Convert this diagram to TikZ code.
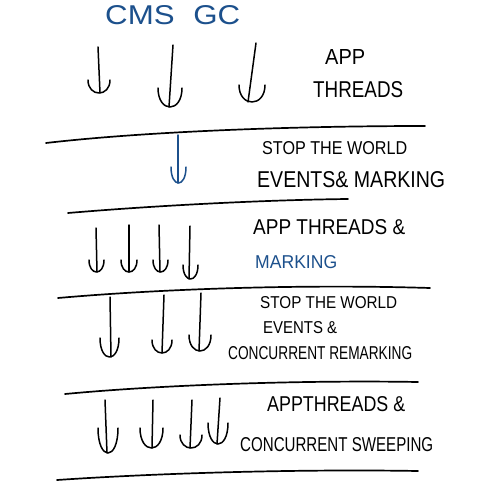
\documentclass[tikz,border=0pt]{standalone}
\usepackage{fontspec}
\setmainfont{Liberation Sans}
\usepackage{graphicx}
\definecolor{inkblue}{RGB}{28,80,140}
\tikzset{
  ink/.style={line width=1.5pt, line cap=round, line join=round, black},
  sep/.style={line width=1.7pt, line cap=round, black},
  lbl/.style={anchor=west, inner sep=0pt, black},
}
\newcommand\cuparrow[8]{% color, xt, yt, xb, yb, xl, xr, ya
  \draw[ink,#1] (#2,#3) -- (#4,#5);
  \draw[ink,#1] (#6,#8) .. controls (#6,{#5+(#5-#8)/3}) and (#7,{#5+(#5-#8)/3}) .. (#7,#8);
}
\newcommand\fitw[3]{\resizebox{#1pt}{#2pt}{#3}}
\begin{document}
\begin{tikzpicture}[x=1pt,y=-1pt]
\useasboundingbox (0,0) rectangle (488,492);

% title
\node[lbl, text=inkblue] (title) at (105,15) {\fitw{135}{19}{CMS\hspace{0.6em}GC}};

% separators
\draw[sep] (46,143) .. controls (150,131) and (300,126) .. (425,126);
\draw[sep] (68,213) .. controls (150,206) and (260,200) .. (348,199);
\draw[sep] (58,298) .. controls (160,289) and (300,284) .. (430,288);
\draw[sep] (65,394) .. controls (160,385) and (300,380) .. (418,382);
\draw[sep] (57,480) .. controls (160,473) and (300,469) .. (418,471);

% row 1
\cuparrow{black}{98}{47}{100}{93}{88}{110}{80}
\cuparrow{black}{173}{45}{169}{107}{158}{182}{88}
\cuparrow{black}{256}{43}{248}{102}{239}{265}{85}
\node[lbl] (t1a) at (325,57) {\fitw{40}{15}{APP}};
\node[lbl] (t1b) at (313,90) {\fitw{90}{16}{THREADS}};

% row 2
\cuparrow{inkblue}{178}{135}{178}{183}{171}{186}{167}
\node[lbl] (t2a) at (262,148) {\fitw{145}{13}{STOP THE WORLD}};
\node[lbl] (t2b) at (257,180) {\fitw{188}{16}{EVENTS\& MARKING}};

% row 3
\cuparrow{black}{96}{228}{97}{272}{89}{104}{260}
\cuparrow{black}{129}{225}{129}{272}{121}{137}{260}
\cuparrow{black}{159}{225}{160}{272}{153}{168}{260}
\cuparrow{black}{190}{226}{189}{279}{183}{198}{265}
\node[lbl] (t3a) at (253,227) {\fitw{152}{15}{APP THREADS \&}};
\node[lbl, text=inkblue] (t3b) at (255,262) {\fitw{82}{13}{MARKING}};

% row 4
\cuparrow{black}{110}{297}{111}{357}{100}{119}{338}
\cuparrow{black}{164}{295}{162}{353}{152}{172}{340}
\cuparrow{black}{201}{293}{199}{351}{189}{211}{335}
\node[lbl] (t4a) at (260,303) {\fitw{137}{12}{STOP THE WORLD}};
\node[lbl] (t4b) at (263,328) {\fitw{74}{12}{EVENTS \&}};
\node[lbl] (t4c) at (228,353) {\fitw{184}{13}{CONCURRENT REMARKING}};

% row 5
\cuparrow{black}{105}{400}{107}{453}{98}{118}{428}
\cuparrow{black}{153}{400}{152}{448}{140}{163}{428}
\cuparrow{black}{192}{400}{190}{448}{180}{202}{435}
\cuparrow{black}{220}{398}{217}{444}{208}{228}{423}
\node[lbl] (t5a) at (267,404) {\fitw{138}{15}{APPTHREADS \&}};
\node[lbl] (t5b) at (240,445) {\fitw{193}{14}{CONCURRENT SWEEPING}};
\end{tikzpicture}
\end{document}
